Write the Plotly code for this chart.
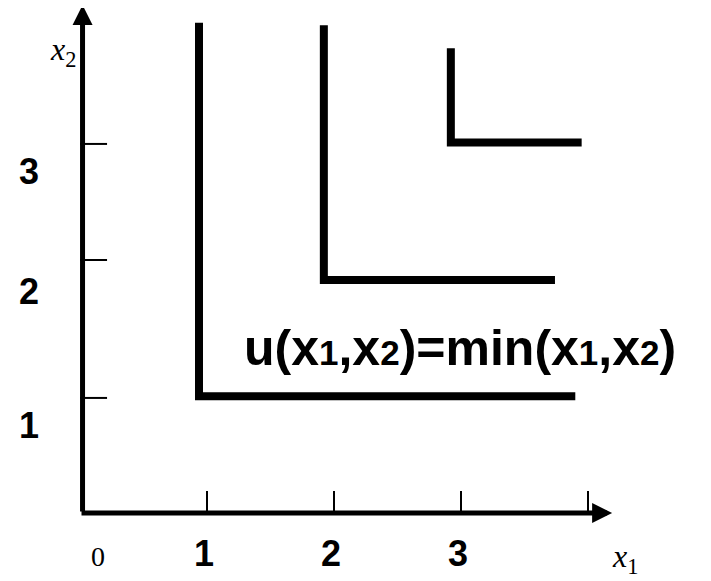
import plotly.graph_objects as go

# ---- data (axis units) ----
curve_names = ["u=1", "u=2", "u=3"]
corner_x = [0.937, 1.92, 2.92]
corner_y = [0.92, 1.835, 2.917]
top_y = [3.86, 3.84, 3.66]
right_x = [3.90, 3.74, 3.95]

x_tick_vals = [1, 2, 3, 4]
x_tick_labels = ["1", "2", "3", ""]
y_tick_vals = [0.906, 1.992, 2.906]
y_tick_labels = ["1", "2", "3"]

SUB = '<span style="font-size:35px">{}</span>'
formula = ("u(x" + SUB.format("1") + ",x" + SUB.format("2") + ")=min(x"
           + SUB.format("1") + ",x" + SUB.format("2") + ")")

# ---- layout constants (page has an 8px body margin) ----
PX = 127.0
OFF = 8
X_MIN, X_MAX = -(80 - OFF) / PX, (711 - 80 + OFF) / PX
Y_MAX, Y_MIN = (513 - OFF) / PX, -(581 - 513 + OFF) / PX
X_AXIS_END = 4.19
Y_AXIS_END = 4.0
X_TICK_LEN = 0.173
Y_TICK_LEN = 0.213

fig = go.Figure()

# indifference curves (L-shaped)
for cx, cy, ty, rx, name in zip(corner_x, corner_y, top_y, right_x, curve_names):
    fig.add_trace(go.Scatter(
        x=[cx, cx, rx], y=[ty, cy, cy], mode="lines", name=name,
        line=dict(color="black", width=8), hoverinfo="skip"))

# tick marks
for tv in x_tick_vals:
    fig.add_trace(go.Scatter(x=[tv, tv], y=[0, X_TICK_LEN], mode="lines",
                             line=dict(color="black", width=2), hoverinfo="skip"))
for tv in y_tick_vals:
    fig.add_trace(go.Scatter(x=[0, Y_TICK_LEN], y=[tv, tv], mode="lines",
                             line=dict(color="black", width=2), hoverinfo="skip"))

annotations = []
# axis arrows
annotations.append(dict(x=X_AXIS_END, y=0, ax=0, ay=0, xref="x", yref="y",
                        axref="x", ayref="y", showarrow=True, arrowhead=2,
                        arrowwidth=5, arrowsize=0.8, arrowcolor="black", text=""))
annotations.append(dict(x=0.02, y=Y_AXIS_END, ax=0.02, ay=0, xref="x", yref="y",
                        axref="x", ayref="y", showarrow=True, arrowhead=2,
                        arrowwidth=5, arrowsize=0.8, arrowcolor="black", text=""))

bold = dict(family="Liberation Sans, Arial, sans-serif", size=36, color="black")
for tv, lab in zip(x_tick_vals, x_tick_labels):
    if lab:
        annotations.append(dict(x=tv - 0.02, y=-0.315, xref="x", yref="y", text=f"<b>{lab}</b>",
                                showarrow=False, font=bold))
y_label_shift = [-0.22, -0.25, -0.22]
for tv, lab, sh in zip(y_tick_vals, y_tick_labels, y_label_shift):
    annotations.append(dict(x=-0.40, y=tv + sh, xref="x", yref="y", text=f"<b>{lab}</b>",
                            showarrow=False, font=bold))

serif = dict(family="Liberation Serif, Times New Roman, serif", size=28, color="black")
annotations.append(dict(x=0.142, y=-0.346, xref="x", yref="y", text="0",
                        showarrow=False, font=serif))
annotations.append(dict(x=4.29, y=-0.355, xref="x", yref="y", text="<i>x</i><sub>1</sub>",
                        showarrow=False, font=dict(family="Liberation Serif, serif", size=32, color="black")))
annotations.append(dict(x=-0.134, y=3.63, xref="x", yref="y", text="<i>x</i><sub>2</sub>",
                        showarrow=False, font=dict(family="Liberation Serif, serif", size=32, color="black")))

annotations.append(dict(x=2.99, y=1.30, xref="x", yref="y", text=f"<b>{formula}</b>",
                        showarrow=False,
                        font=dict(family="Liberation Sans, Arial, sans-serif", size=50, color="black")))

fig.update_layout(
    width=711, height=581, autosize=False,
    margin=dict(l=0, r=0, t=0, b=0, pad=0),
    paper_bgcolor="white", plot_bgcolor="white",
    showlegend=False,
    xaxis=dict(range=[X_MIN, X_MAX], visible=False, fixedrange=True),
    yaxis=dict(range=[Y_MIN, Y_MAX], visible=False, fixedrange=True),
    annotations=annotations,
)

fig.write_html("out.html")
